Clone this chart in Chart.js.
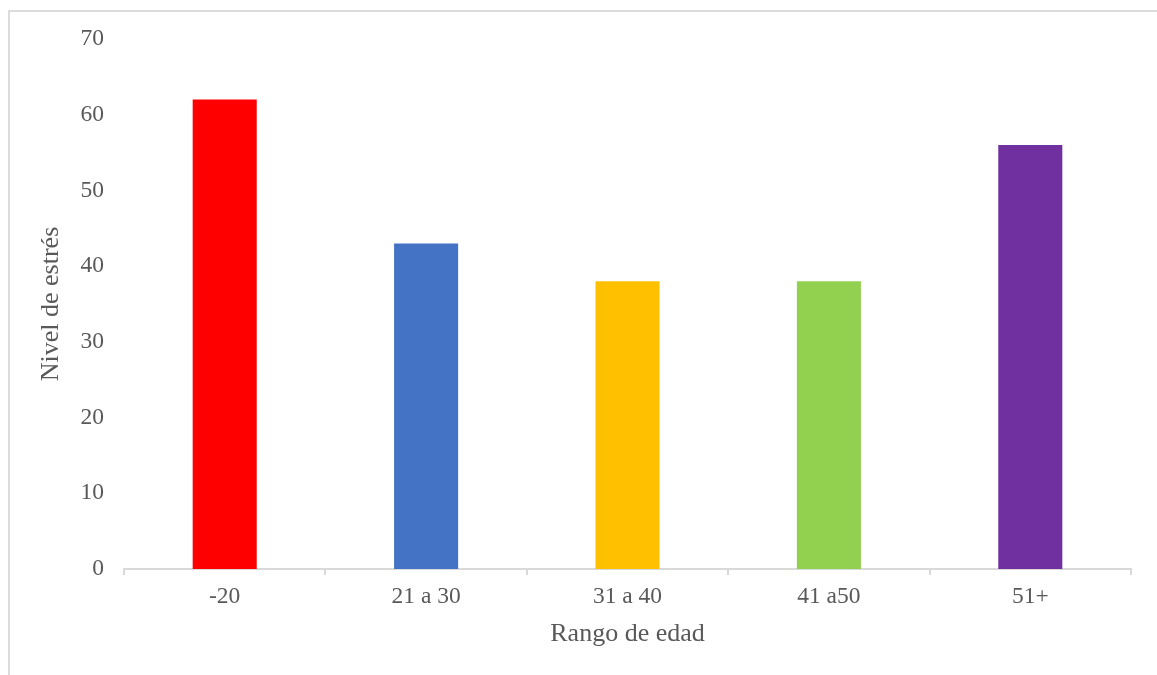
<!DOCTYPE html>
<html lang="es">
<head>
<meta charset="utf-8">
<title>Nivel de estrés por rango de edad</title>
<script src="https://cdn.jsdelivr.net/npm/chart.js@4/dist/chart.umd.min.js"></script>
<style>
    html, body { margin: 0; padding: 0; background: #ffffff; overflow: hidden; }
    #wrap { position: relative; width: 1157px; height: 675px; }
    #frame {
        position: absolute; left: 8px; top: 10px; width: 1200px; height: 700px;
        border-left: 2px solid #dcdcdc; border-top: 2px solid #dcdcdc;
        box-sizing: border-box;
    }
    #stressChart { position: absolute; left: 0; top: 0; }
</style>
</head>
<body>
<div id="wrap">
    <div id="frame"></div>
    <canvas id="stressChart" width="1157" height="675"></canvas>
</div>
<script>
    // age ranges and stress level per range
    const ageRanges = ['-20', '21 a 30', '31 a 40', '41 a50', '51+'];
    const stressLevels = [62, 43, 38, 38, 56];
    const barColors = ['#FF0000', '#4472C4', '#FFC000', '#92D050', '#7030A0'];
    const yTickMin = 0;
    const yTickMax = 70;
    const yTickStep = 10;

    const FONT = "'Liberation Serif', 'Times New Roman', serif";
    const TEXT = '#595959';
    const LINE = '#d9d9d9';

    new Chart(document.getElementById('stressChart'), {
        type: 'bar',
        data: {
            labels: ageRanges,
            datasets: [{
                data: stressLevels,
                backgroundColor: barColors,
                borderWidth: 0,
                categoryPercentage: 1,
                barPercentage: 0.318
            }]
        },
        options: {
            responsive: false,
            animation: false,
            layout: { padding: { top: 39, right: 26, bottom: 0, left: 0 } },
            plugins: { legend: { display: false }, tooltip: { enabled: false } },
            scales: {
                x: {
                    grid: {
                        offset: true, drawOnChartArea: false, drawTicks: true,
                        tickLength: 6, color: LINE, lineWidth: 2
                    },
                    border: { display: true, color: LINE, width: 2 },
                    ticks: { color: TEXT, padding: 8, font: { family: FONT, size: 23.5 } },
                    title: {
                        display: true, text: 'Rango de edad', color: TEXT,
                        font: { family: FONT, size: 26 }, padding: { top: 0, bottom: 25 }
                    },
                    afterFit: s => { s.height = 106; }
                },
                y: {
                    min: yTickMin,
                    max: yTickMax,
                    // no axis line or grid; tickLength 0 keeps labels 20px off the plot
                    grid: { display: false, drawTicks: false, tickLength: 0 },
                    border: { display: false },
                    ticks: { stepSize: yTickStep, color: TEXT, padding: 20, font: { family: FONT, size: 23.5 } },
                    title: {
                        display: true, text: 'Nivel de estrés', color: TEXT,
                        font: { family: FONT, size: 26 }, padding: { top: 36, bottom: 0 }
                    },
                    afterFit: s => { s.width = 124; }
                }
            }
        }
    });
</script>
</body>
</html>
